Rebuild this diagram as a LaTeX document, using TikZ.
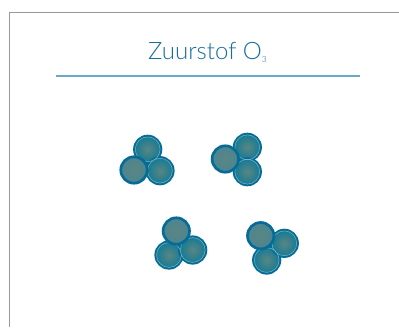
\documentclass[tikz,border=0pt]{standalone}
\usepackage{fontspec}
\setmainfont{Lato Light}
\definecolor{titleblue}{HTML}{166E9C}
\definecolor{rulec}{HTML}{6BAAC6}
\definecolor{framec}{HTML}{999999}
\definecolor{edgeblue}{HTML}{056C98}
\definecolor{ringc}{HTML}{74B4C6}
\definecolor{atomin}{HTML}{5A8683}
\definecolor{atomout}{HTML}{4C8590}
\definecolor{atombackout}{HTML}{117A95}
\tikzset{
 atomfront/.style={circle,draw=edgeblue,line width=2.7pt,inner color=atomin,outer color=atomout,minimum size=26.4pt,inner sep=0pt,outer sep=0pt},
 atomback/.style={circle,draw=edgeblue,line width=2pt,inner color=atomin,outer color=atombackout,minimum size=27.2pt,inner sep=0pt,outer sep=0pt},
 ringline/.style={ringc,line width=.5pt},
}
\begin{document}
\begin{tikzpicture}[x=1pt,y=-1pt]
\useasboundingbox[fill=white] (0,0) rectangle (399,327);
\draw[framec,line width=1pt] (399,12.5) -- (9.5,12.5) -- (9.5,327);
\node[text=titleblue,font=\fontsize{24}{28}\selectfont,inner sep=0pt] (title) at (207.5,52.5) {Zuurstof O\raisebox{-3.5pt}{\fontsize{8.5}{10}\selectfont\color{titleblue}3}};
\coordinate (ruleL) at (55.5,76);
\coordinate (ruleR) at (360,76);
\draw[rulec,line width=1.1pt] (ruleL) -- (ruleR);
% group 1
\node[atomback] (a1) at (147.7,149.3) {};
\node[atomback] (a2) at (160,170.7) {};
\draw[ringline] (a1.center) circle (12.4pt) (a2.center) circle (12.4pt);
\node[atomfront] (a3) at (134,170) {};
% group 2
\node[atomback] (b1) at (247.3,147.3) {};
\node[atomback] (b2) at (247.3,171.7) {};
\draw[ringline] (b1.center) circle (12.4pt) (b2.center) circle (12.4pt);
\node[atomfront] (b3) at (225.3,159) {};
% group 3
\node[atomback] (c1) at (169,255) {};
\node[atomback] (c2) at (192.7,250) {};
\draw[ringline] (c1.center) circle (12.4pt) (c2.center) circle (12.4pt);
\node[atomfront] (c3) at (176.3,231) {};
% group 4
\node[atomback] (d1) at (266.7,260) {};
\node[atomback] (d2) at (284.3,243.3) {};
\draw[ringline] (d1.center) circle (12.4pt) (d2.center) circle (12.4pt);
\node[atomfront] (d3) at (260.7,235.7) {};
\end{tikzpicture}
\end{document}
